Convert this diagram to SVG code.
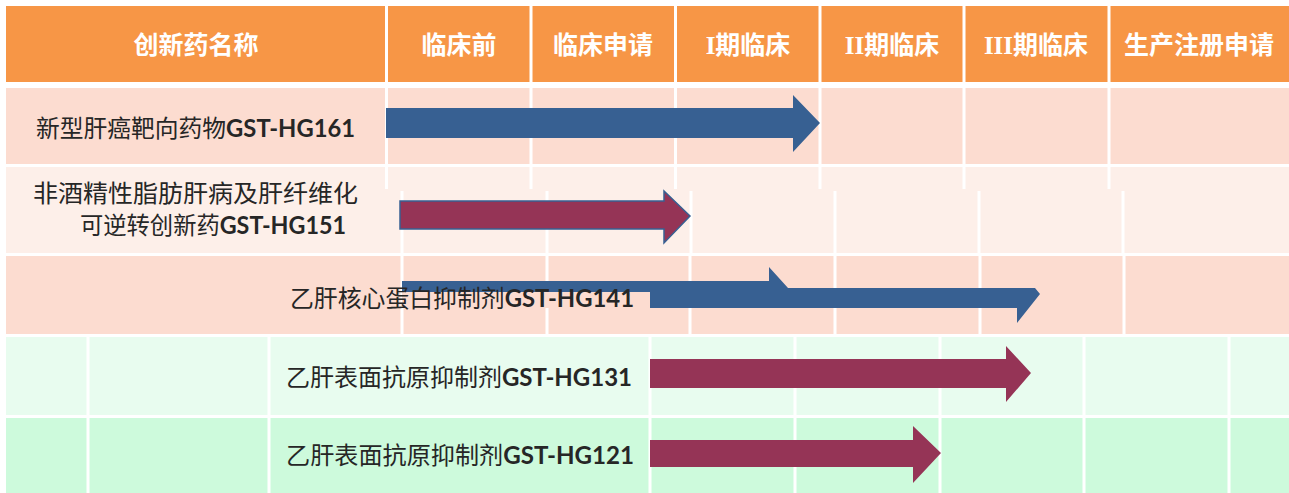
<svg xmlns="http://www.w3.org/2000/svg" width="1289" height="493" viewBox="0 0 1289 493">
<style>
.hdr{fill:#f79646}
.pk{fill:#fcdcd0}
.pk2{fill:#fdefe9}
.gn1{fill:#e8fcef}
.gn2{fill:#cdfadc}
.grid{stroke:#ffffff;stroke-width:3;fill:none}
.ht{font-family:"Noto Sans CJK SC","Noto Sans",sans-serif;font-weight:bold;font-size:25px;fill:#ffffff;text-anchor:middle}
.rn{font-family:"Liberation Serif",serif;font-weight:bold}
.bt{font-family:"Noto Sans CJK SC","Noto Sans",sans-serif;font-size:24px;fill:#262626}
.code{font-family:Lato,"Liberation Sans",sans-serif;font-weight:bold}
.blue{fill:#376092}
.mar{fill:#953456}
</style>
<rect width="1289" height="493" fill="#ffffff"/>
<g id="table-bg">
<rect class="hdr" x="6" y="6" width="1283" height="76"/>
<rect class="pk" x="6" y="88" width="1283" height="76"/>
<rect class="pk2" x="6" y="167" width="1283" height="86"/>
<rect class="pk" x="6" y="256" width="1283" height="78"/>
<rect class="gn1" x="6" y="337" width="1283" height="78"/>
<rect class="gn2" x="6" y="418" width="1283" height="75"/>
<path class="grid" d="M386.5 6V82M531 6V82M675.5 6V82M820 6V82M964 6V82M1109 6V82"/>
<path class="grid" d="M386.5 88V164M531 88V164M675.5 88V164M820 88V164M964 88V164M1109 88V164"/>
<path class="grid" d="M386.5 167V189M531 167V189M675.5 167V189M820 167V189M964 167V189M1109 167V189"/>
<path class="grid" d="M402 191V253M547 191V253M691 191V253M835 191V253M979 191V253M1123 191V253"/>
<path class="grid" d="M402 256V334M547 256V334M690 256V334M835 256V334M980 256V334M1124 256V334"/>
<path class="grid" d="M88 337V493M269 337V493M650 337V493M795 337V493M940 337V493M1084 337V493M1229 337V493"/>
</g>
<g id="header">
<text class="ht" x="196" y="54">创新药名称</text>
<text class="ht" x="459" y="54">临床前</text>
<text class="ht" x="603" y="54">临床申请</text>
<text class="ht" x="748" y="54"><tspan class="rn">I</tspan>期临床</text>
<text class="ht" x="892" y="54"><tspan class="rn">II</tspan>期临床</text>
<text class="ht" x="1036" y="54"><tspan class="rn">III</tspan>期临床</text>
<text class="ht" x="1199" y="54">生产注册申请</text>
</g>
<g id="connectors">
<polygon class="blue" points="386,108 793,108 793,95 820,123 793,152 793,138 386,138"/>
<polygon class="mar" points="400,201 664,201 664,191 690,216 664,243 664,229 400,229" stroke="#376092" stroke-width="1.5"/>
<polygon class="blue" points="402,281 769,281 769,267 788,288 1035,288 1040,294 1017,323 1017,308 402,308"/>
<polygon class="mar" points="650,359 1006,359 1006,346 1031,373 1006,402 1006,388 650,388"/>
<polygon class="mar" points="650,440 913,440 913,426 941,453 913,483 913,467 650,467"/>
</g>
<g id="row-hg161">
<text class="bt" x="36" y="137" textLength="319" lengthAdjust="spacingAndGlyphs">新型肝癌靶向药物<tspan class="code">GST-HG161</tspan></text>
</g>
<g id="row-hg151">
<text class="bt" x="33" y="202" textLength="325" lengthAdjust="spacingAndGlyphs">非酒精性脂肪肝病及肝纤维化</text>
<text class="bt" x="80" y="234" textLength="266" lengthAdjust="spacingAndGlyphs">可逆转创新药<tspan class="code">GST-HG151</tspan></text>
</g>
<g id="row-hg141">
<rect class="pk" x="402" y="292" width="248" height="16"/>
<text class="bt" x="290" y="307" textLength="344" lengthAdjust="spacingAndGlyphs">乙肝核心蛋白抑制剂<tspan class="code">GST-HG141</tspan></text>
</g>
<g id="row-hg131">
<text class="bt" x="286" y="386" textLength="346" lengthAdjust="spacingAndGlyphs">乙肝表面抗原抑制剂<tspan class="code">GST-HG131</tspan></text>
</g>
<g id="row-hg121">
<text class="bt" x="286" y="464" textLength="348" lengthAdjust="spacingAndGlyphs">乙肝表面抗原抑制剂<tspan class="code">GST-HG121</tspan></text>
</g>
</svg>
